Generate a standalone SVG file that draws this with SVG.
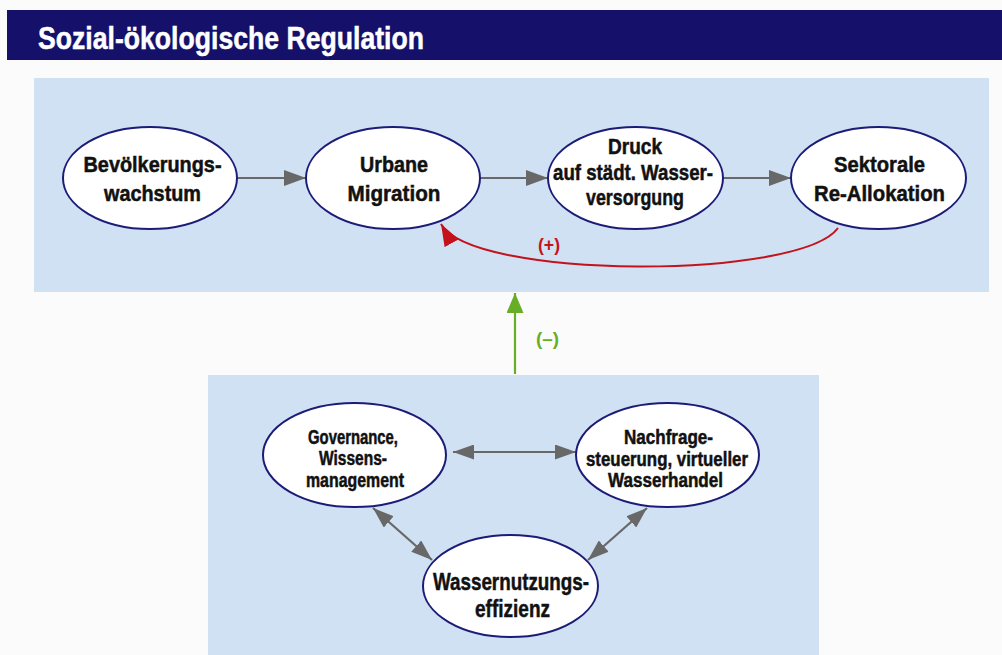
<svg xmlns="http://www.w3.org/2000/svg" width="1002" height="655" viewBox="0 0 1002 655">
  <style>
    .t { font-family: "Liberation Sans Narrow", "Liberation Sans", Arial, sans-serif; font-weight: bold; fill: #111; stroke: #111; stroke-width: 0.5; text-anchor: middle; }
    .top { font-size: 22.5px; }
    .bot { font-size: 19.5px; }
    .big { font-size: 24.5px; }
    .node { fill: #ffffff; stroke: #1c1c78; stroke-width: 2; }
    .panel { fill: #cfe1f2; }
    .gray { stroke: #686868; stroke-width: 2.2; fill: none; }
  </style>
  <defs>
    <marker id="ah" markerUnits="userSpaceOnUse" markerWidth="22" markerHeight="16" viewBox="0 0 22 16" refX="22" refY="8" orient="auto">
      <path d="M0,0 L22,8 L0,16 z" fill="#686868"/>
    </marker>
    <marker id="ah2" markerUnits="userSpaceOnUse" markerWidth="21" markerHeight="15" viewBox="0 0 21 15" refX="21" refY="7.5" orient="auto-start-reverse">
      <path d="M0,0 L21,7.5 L0,15 z" fill="#686868"/>
    </marker>
    <marker id="ahr" markerUnits="userSpaceOnUse" markerWidth="22" markerHeight="16" viewBox="0 0 22 16" refX="22" refY="8" orient="auto">
      <path d="M0,0 L22,8 L0,16 z" fill="#c3121c"/>
    </marker>
    <marker id="ahg" markerUnits="userSpaceOnUse" markerWidth="20" markerHeight="17" viewBox="0 0 20 17" refX="20" refY="8.5" orient="auto">
      <path d="M0,0 L20,8.5 L0,17 z" fill="#67ad25"/>
    </marker>
  </defs>

  <rect x="0" y="0" width="1002" height="655" fill="#fbfbfb"/>
  <rect x="7" y="10" width="995" height="50" fill="#15116b"/>
  <text x="38" y="49" font-family="'Liberation Sans Narrow', 'Liberation Sans', Arial, sans-serif" font-weight="bold" font-size="31" fill="#ffffff" stroke="#ffffff" stroke-width="0.5" textLength="386" lengthAdjust="spacingAndGlyphs">Sozial-ökologische Regulation</text>

  <rect class="panel" x="34" y="78" width="955" height="214"/>
  <rect class="panel" x="208" y="375" width="611" height="280"/>

  <g id="connectors">
    <line class="gray" x1="237" y1="178" x2="306" y2="178" marker-end="url(#ah)"/>
    <line class="gray" x1="480" y1="178" x2="548" y2="178" marker-end="url(#ah)"/>
    <line class="gray" x1="723" y1="178" x2="791" y2="178" marker-end="url(#ah)"/>
    <path d="M838,228 C800,280 472,280 441,224" fill="none" stroke="#c3121c" stroke-width="2" marker-end="url(#ahr)"/>
    <line x1="515" y1="374" x2="515" y2="293" stroke="#67ad25" stroke-width="2.2" marker-end="url(#ahg)"/>
    <line class="gray" x1="453" y1="452" x2="576" y2="452" marker-start="url(#ah2)" marker-end="url(#ah2)"/>
    <line class="gray" x1="373" y1="508" x2="432" y2="560" marker-start="url(#ah2)" marker-end="url(#ah2)"/>
    <line class="gray" x1="588" y1="560" x2="647" y2="508" marker-start="url(#ah2)" marker-end="url(#ah2)"/>
    <text x="549" y="251" font-family="'Liberation Sans Narrow', 'Liberation Sans', Arial, sans-serif" font-weight="bold" font-size="19" fill="#c3121c" text-anchor="middle" textLength="22" lengthAdjust="spacingAndGlyphs">(+)</text>
    <text x="547.5" y="345" font-family="'Liberation Sans Narrow', 'Liberation Sans', Arial, sans-serif" font-weight="bold" font-size="19" fill="#67ad25" text-anchor="middle" textLength="23" lengthAdjust="spacingAndGlyphs">(–)</text>
  </g>

  <g id="n-bevoelkerung">
    <ellipse class="node" cx="150" cy="178" rx="87" ry="51"/>
    <text class="t top" x="152.5" y="172" textLength="138" lengthAdjust="spacingAndGlyphs">Bevölkerungs-</text>
    <text class="t top" x="152.5" y="201" textLength="97" lengthAdjust="spacingAndGlyphs">wachstum</text>
  </g>
  <g id="n-migration">
    <ellipse class="node" cx="393" cy="178" rx="87" ry="51"/>
    <text class="t top" x="394" y="172" textLength="68" lengthAdjust="spacingAndGlyphs">Urbane</text>
    <text class="t top" x="394" y="201" textLength="93" lengthAdjust="spacingAndGlyphs">Migration</text>
  </g>
  <g id="n-druck">
    <ellipse class="node" cx="635.5" cy="178" rx="87.5" ry="51"/>
    <text class="t top" x="635" y="154" textLength="54" lengthAdjust="spacingAndGlyphs">Druck</text>
    <text class="t top" x="633" y="180" textLength="160" lengthAdjust="spacingAndGlyphs">auf städt. Wasser-</text>
    <text class="t top" x="635" y="205" textLength="98" lengthAdjust="spacingAndGlyphs">versorgung</text>
  </g>
  <g id="n-sektorale">
    <ellipse class="node" cx="878.5" cy="178" rx="87.5" ry="51"/>
    <text class="t top" x="879.5" y="172" textLength="91" lengthAdjust="spacingAndGlyphs">Sektorale</text>
    <text class="t top" x="879.5" y="201" textLength="131" lengthAdjust="spacingAndGlyphs">Re-Allokation</text>
  </g>

  <g id="n-governance">
    <ellipse class="node" cx="354.5" cy="455" rx="91.5" ry="52"/>
    <text class="t bot" x="353" y="444" textLength="90" lengthAdjust="spacingAndGlyphs">Governance,</text>
    <text class="t bot" x="353" y="465" textLength="68" lengthAdjust="spacingAndGlyphs">Wissens-</text>
    <text class="t bot" x="355" y="487" textLength="98" lengthAdjust="spacingAndGlyphs">management</text>
  </g>
  <g id="n-nachfrage">
    <ellipse class="node" cx="667.5" cy="455" rx="91.5" ry="52"/>
    <text class="t bot" x="668.5" y="444" textLength="89" lengthAdjust="spacingAndGlyphs">Nachfrage-</text>
    <text class="t bot" x="667" y="466" textLength="162" lengthAdjust="spacingAndGlyphs">steuerung, virtueller</text>
    <text class="t bot" x="665.5" y="487" textLength="115" lengthAdjust="spacingAndGlyphs">Wasserhandel</text>
  </g>
  <g id="n-effizienz">
    <ellipse class="node" cx="510.5" cy="586" rx="87.5" ry="51"/>
    <text class="t big" x="511" y="590" textLength="156" lengthAdjust="spacingAndGlyphs">Wassernutzungs-</text>
    <text class="t big" x="512.5" y="617" textLength="75" lengthAdjust="spacingAndGlyphs">effizienz</text>
  </g>
</svg>
